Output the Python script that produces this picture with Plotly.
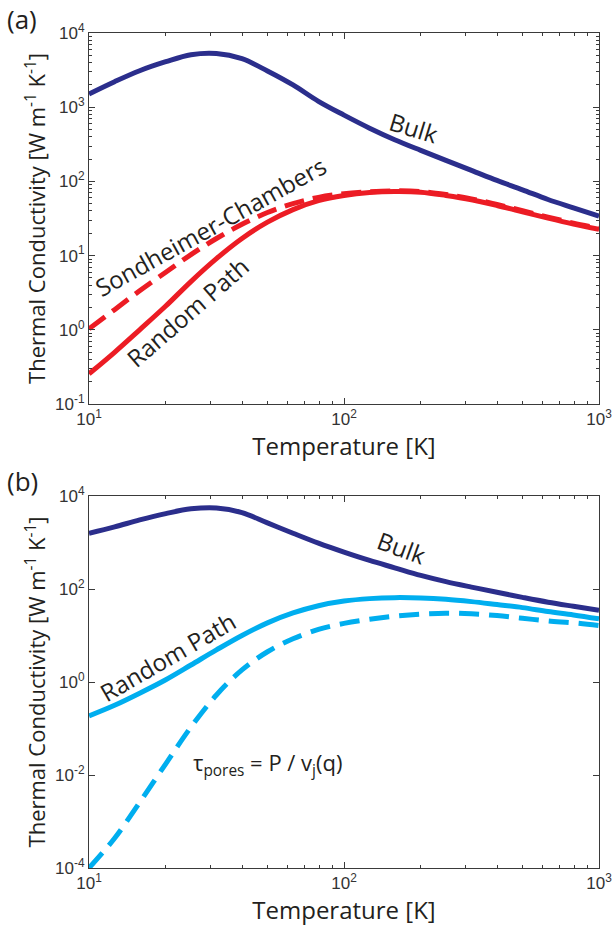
import plotly.graph_objects as go

# ---------------- data ----------------
T = [10.0, 12.6, 15.8, 20.0, 25.1, 31.6, 39.8, 50.1, 63.1, 79.4, 100,
     126, 158, 200, 251, 316, 398, 501, 631, 794, 1000]

# panel (a)
bulk_a = [1510, 2210, 3100, 4100, 5100, 5300, 4500, 3080, 1995, 1200, 782,
          522, 365, 262, 192, 141, 103, 77, 57, 44, 34]
random_a = [0.255, 0.498, 1.0, 2.09, 4.47, 9.1, 17.0, 28.2, 41.7, 55, 64.6,
            70.8, 73.1, 71.6, 64.6, 56.5, 47.4, 39, 32, 26.6, 22.6]
sondheimer_a = [1.03, 1.87, 3.36, 5.97, 10.3, 17.0, 26.4, 38.1, 50.1, 61.0, 68.4,
                72.4, 74.5, 73.1, 66.6, 58.2, 48.9, 40.2, 33, 27.4, 23.3]

# panel (b)
bulk_b = [1585, 2165, 3060, 4180, 5300, 5550, 4400, 2640, 1585, 968, 621,
          411, 286, 196, 144, 110, 85, 66, 52, 42.5, 35]
random_b = [0.187, 0.316, 0.575, 1.12, 2.32, 4.9, 10.0, 18.7, 30.5, 43.7, 55,
            62.1, 65.2, 64.1, 60.1, 53.5, 46.2, 39.8, 32.7, 27.7, 22.8]
pores_b = [1.0e-4, 4.37e-4, 2.57e-3, 0.0174, 0.107, 0.525, 1.82, 4.47, 8.5, 13.5, 18.2,
           22.4, 26.0, 28.8, 30.2, 29.2, 26.9, 23.5, 20.6, 18.7, 16.4]

x_ticks = [10, 100, 1000]
x_ticktext = ["10<sup>1</sup>", "10<sup>2</sup>", "10<sup>3</sup>"]
ya_ticks = [0.1, 1, 10, 100, 1000, 10000]
ya_ticktext = ["10<sup>-1</sup>", "10<sup>0</sup>", "10<sup>1</sup>", "10<sup>2</sup>", "10<sup>3</sup>", "10<sup>4</sup>"]
yb_ticks = [1e-4, 1e-2, 1, 100, 1e4]
yb_ticktext = ["10<sup>-4</sup>", "10<sup>-2</sup>", "10<sup>0</sup>", "10<sup>2</sup>", "10<sup>4</sup>"]

NAVY = "#2B2E8C"
RED = "#EC1C24"
CYAN = "#00AEEF"
AXC = "#3a3a3a"
TEXTC = "#231F20"
X_TITLE_FONT = dict(family="Open Sans", size=24, color=TEXTC)
Y_TITLE_FONT = dict(family="Open Sans", size=22, color=TEXTC)
TICK_FONT = dict(family="Liberation Sans, Arial", size=17, color="#333333")


def minor_vals(lo, hi):
    return [m * 10 ** e for e in range(lo, hi) for m in range(2, 10)]


fig = go.Figure()
fig.add_trace(go.Scatter(x=T, y=bulk_a, mode="lines", line=dict(color=NAVY, width=5, shape="spline"), xaxis="x", yaxis="y"))
fig.add_trace(go.Scatter(x=T, y=sondheimer_a, mode="lines", line=dict(color=RED, width=5, dash="20px,9px", shape="spline"), xaxis="x", yaxis="y"))
fig.add_trace(go.Scatter(x=T, y=random_a, mode="lines", line=dict(color=RED, width=5, shape="spline"), xaxis="x", yaxis="y"))

fig.add_trace(go.Scatter(x=T, y=bulk_b, mode="lines", line=dict(color=NAVY, width=5, shape="spline"), xaxis="x2", yaxis="y2"))
fig.add_trace(go.Scatter(x=T, y=pores_b, mode="lines", line=dict(color=CYAN, width=5, dash="20px,10px", shape="spline"), xaxis="x2", yaxis="y2"))
fig.add_trace(go.Scatter(x=T, y=random_b, mode="lines", line=dict(color=CYAN, width=5, shape="spline"), xaxis="x2", yaxis="y2"))

common_axis = dict(
    type="log", showline=True, linecolor=AXC, linewidth=1, mirror="ticks",
    ticks="inside", ticklen=6, tickwidth=1, tickcolor=AXC, showgrid=False, zeroline=False,
    tickfont=TICK_FONT, tickmode="array", automargin=False,
)
ytitle = "Thermal Conductivity [W m<sup>-1</sup> K<sup>-1</sup>]"

fig.update_layout(
    width=613, height=928,
    margin=dict(l=89, r=14, t=0, b=0, autoexpand=False),
    paper_bgcolor="white", plot_bgcolor="white",
    showlegend=False,
    xaxis=dict(common_axis, domain=[0, 1], anchor="y", range=[1, 3], tickvals=x_ticks, ticktext=x_ticktext,
               minor=dict(tickvals=minor_vals(1, 3), ticks="inside", ticklen=3, tickcolor=AXC, showgrid=False),
               title=dict(text="Temperature [K]", font=X_TITLE_FONT, standoff=2)),
    yaxis=dict(common_axis, domain=[1 - 404 / 928, 1 - 33 / 928], anchor="x", range=[-1, 4],
               tickvals=ya_ticks, ticktext=ya_ticktext,
               minor=dict(tickvals=minor_vals(-1, 4), ticks="inside", ticklen=3, tickcolor=AXC, showgrid=False),
               title=dict(text=ytitle, font=Y_TITLE_FONT, standoff=3)),
    xaxis2=dict(common_axis, domain=[0, 1], anchor="y2", range=[1, 3], tickvals=x_ticks, ticktext=x_ticktext,
                minor=dict(tickvals=minor_vals(1, 3), ticks="inside", ticklen=3, tickcolor=AXC, showgrid=False),
                title=dict(text="Temperature [K]", font=X_TITLE_FONT, standoff=2)),
    yaxis2=dict(common_axis, domain=[1 - 868 / 928, 1 - 496 / 928], anchor="x2", range=[-4, 4],
                tickvals=yb_ticks, ticktext=yb_ticktext,
                title=dict(text=ytitle, font=Y_TITLE_FONT, standoff=3)),
)

ann_font = dict(family="Open Sans", size=24, color=TEXTC)
annotations = [
    dict(text="Bulk", x=2.273, y=2.72, xref="x", yref="y", textangle=17, showarrow=False, font=ann_font),
    dict(text="Sondheimer-Chambers", x=1.475, y=1.39, xref="x", yref="y", textangle=-29, showarrow=False, font=ann_font),
    dict(text="Random Path", x=1.389, y=0.24, xref="x", yref="y", textangle=-41, showarrow=False, font=ann_font),
    dict(text="Bulk", x=2.225, y=2.884, xref="x2", yref="y2", textangle=20, showarrow=False, font=ann_font),
    dict(text="Random Path", x=1.309, y=0.545, xref="x2", yref="y2", textangle=-30, showarrow=False, font=ann_font),
    dict(text="\u03c4<sub>pores</sub> = P / v<sub>j</sub>(q)", x=1.70, y=-1.77, xref="x2", yref="y2",
         showarrow=False, font=dict(family="Open Sans", size=22, color=TEXTC)),
    dict(text="(a)", x=(5 - 89) / 510, y=1 - 19 / 928, xref="paper", yref="paper", xanchor="left", yanchor="middle",
         showarrow=False, font=dict(family="Open Sans", size=26, color=TEXTC)),
    dict(text="(b)", x=(5 - 89) / 510, y=1 - 481 / 928, xref="paper", yref="paper", xanchor="left", yanchor="middle",
         showarrow=False, font=dict(family="Open Sans", size=26, color=TEXTC)),
]
fig.update_layout(annotations=annotations)

fig.write_html("out.html")
